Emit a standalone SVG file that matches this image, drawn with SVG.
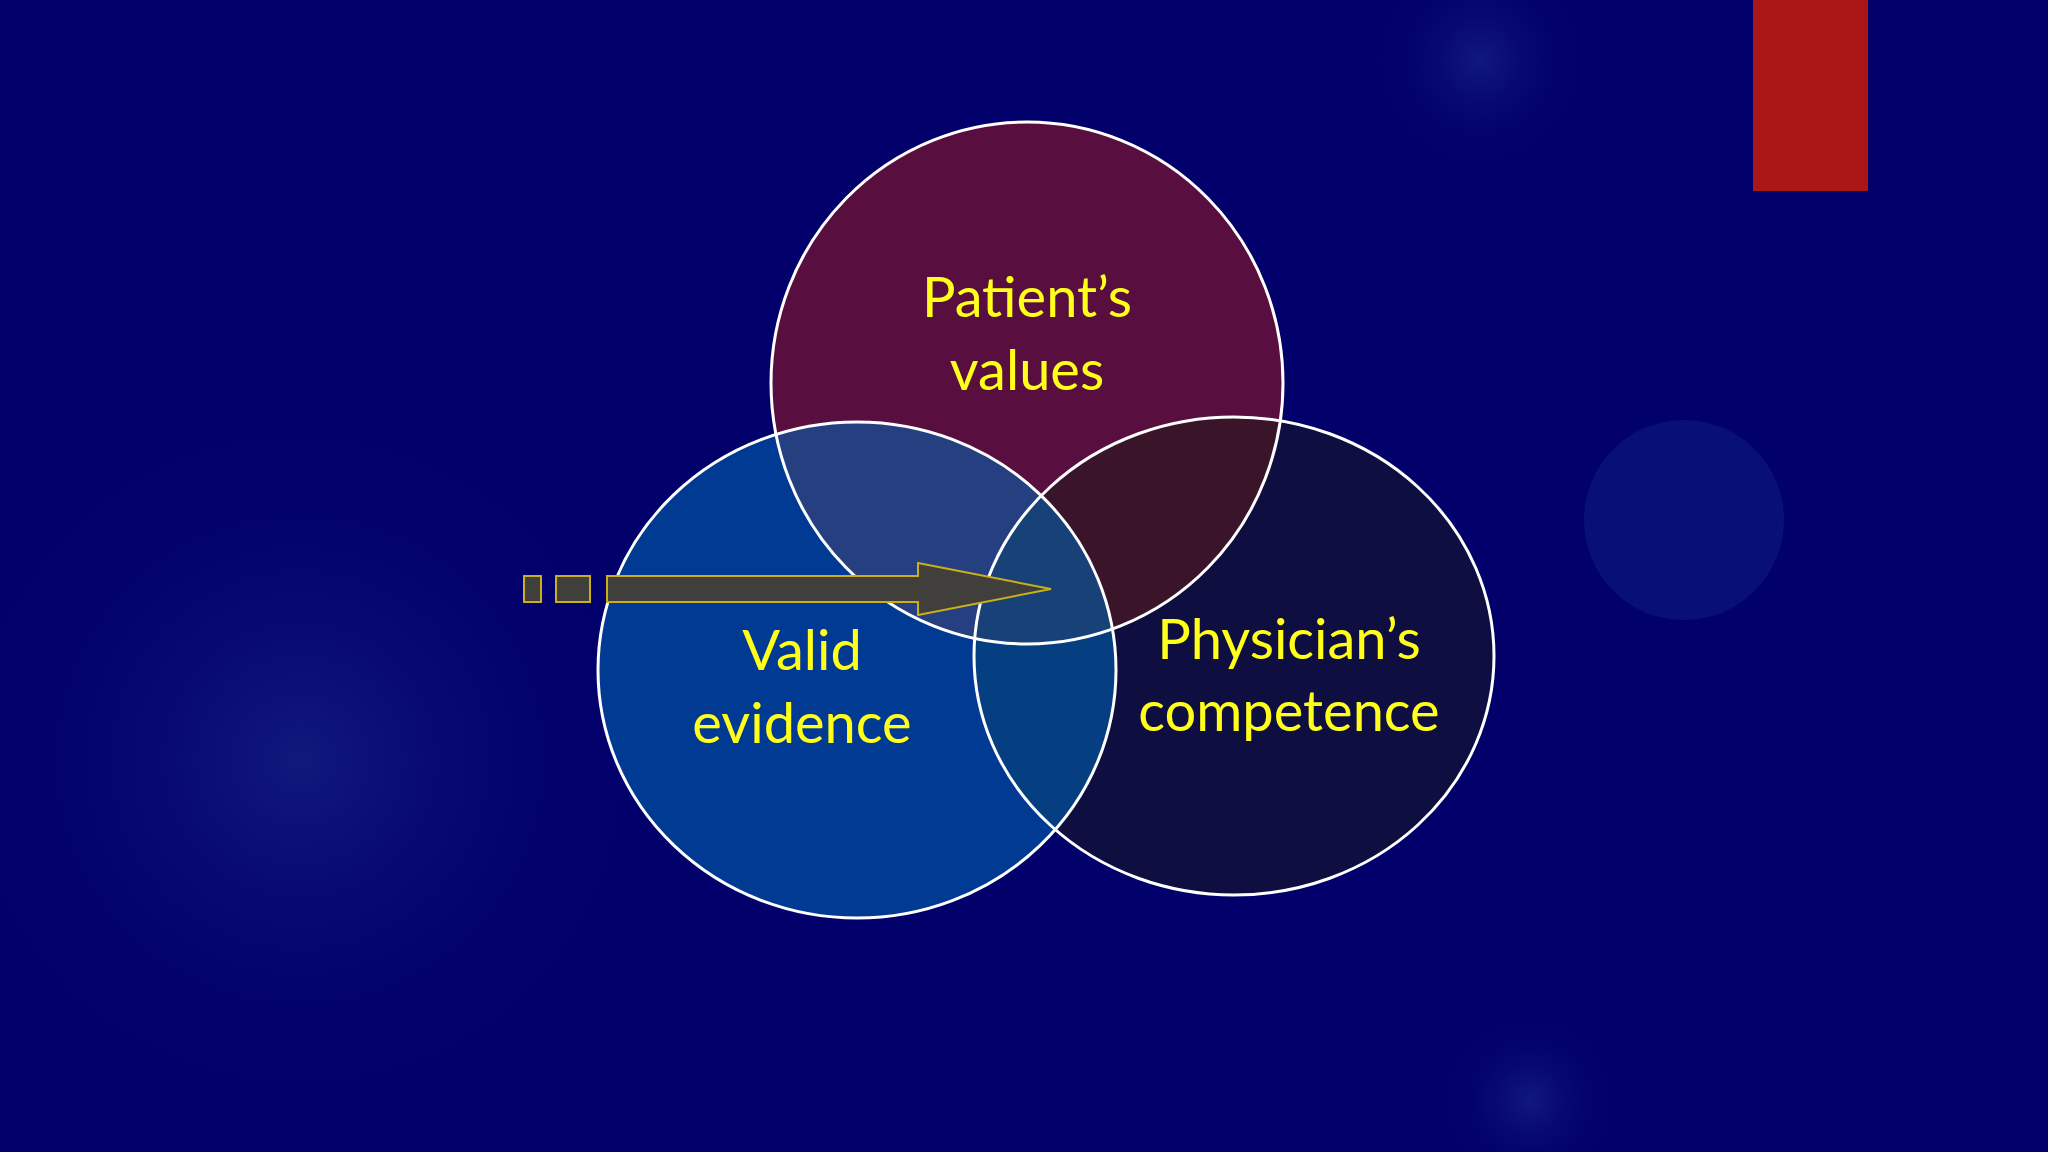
<svg xmlns="http://www.w3.org/2000/svg" width="2048" height="1152" viewBox="0 0 2048 1152">
<defs>
<radialGradient id="glow"><stop offset="0" stop-color="#1a2a8a" stop-opacity="0.6"/><stop offset="1" stop-color="#02006a" stop-opacity="0"/></radialGradient>
<style>
.lbl{font-family:Lato,"Liberation Sans",sans-serif;font-size:56px;fill:#ffff1a;text-anchor:middle}
.ring{fill:none;stroke:#ffffff;stroke-width:3}
.arr{fill:#403f3c;stroke:#c9b01a;stroke-width:2}
</style>
</defs>
<rect width="2048" height="1152" fill="#02006a"/>
<circle cx="300" cy="760" r="360" fill="url(#glow)"/>
<circle cx="1480" cy="60" r="110" fill="url(#glow)"/>
<circle cx="1530" cy="1100" r="90" fill="url(#glow)"/>
<circle cx="1684" cy="520" r="100" fill="#0a1478" opacity="0.8"/>
<rect x="1753" y="0" width="115" height="191" fill="#ab1616"/>
<g id="patient"><ellipse cx="1027" cy="383" rx="256" ry="261" fill="rgb(88,14,63)"/></g>
<g id="physician"><ellipse cx="1234" cy="656" rx="260" ry="239" fill="rgb(26,28,20)" fill-opacity="0.49"/></g>
<g id="evidence"><ellipse cx="857" cy="670" rx="259" ry="248" fill="rgb(0,100,177)" fill-opacity="0.575"/></g>
<ellipse class="ring" cx="1027" cy="383" rx="256" ry="261"/>
<ellipse class="ring" cx="1234" cy="656" rx="260" ry="239"/>
<ellipse class="ring" cx="857" cy="670" rx="259" ry="248"/>
<g id="connectors">
<rect class="arr" x="524" y="576" width="17" height="26"/>
<rect class="arr" x="556" y="576" width="34" height="26"/>
<polygon class="arr" points="607,576 918,576 918,563 1051,589 918,615 918,602 607,602"/>
</g>
<text class="lbl" x="1027" y="317">Patient’s</text>
<text class="lbl" x="1027" y="390">values</text>
<text class="lbl" x="802" y="670">Valid</text>
<text class="lbl" x="802" y="743">evidence</text>
<text class="lbl" x="1289" y="659">Physician’s</text>
<text class="lbl" x="1289" y="731">competence</text>
</svg>
